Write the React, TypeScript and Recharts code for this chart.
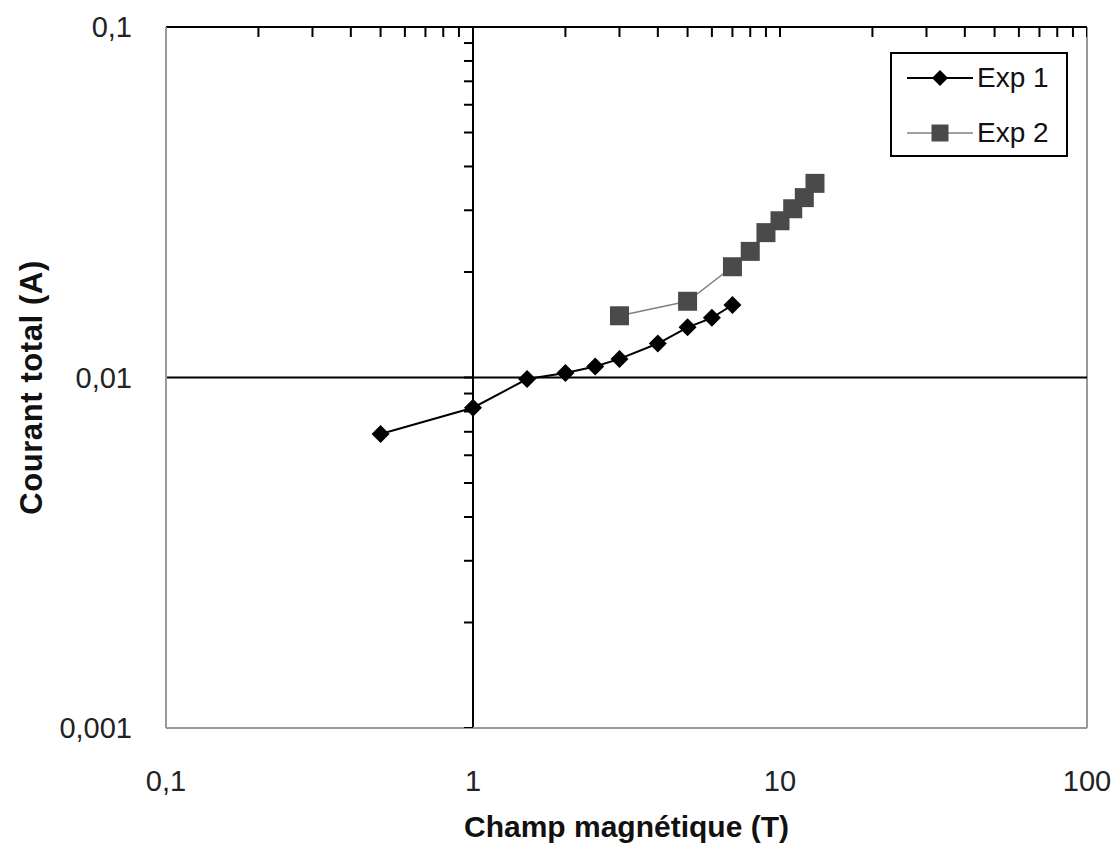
import { ScatterChart, Scatter, XAxis, YAxis, ReferenceLine } from 'recharts'

const exp1Field = [0.5, 1, 1.5, 2, 2.5, 3, 4, 5, 6, 7]
const exp1Current = [0.0069, 0.0082, 0.0099, 0.0103, 0.01075, 0.0113, 0.0125, 0.0139, 0.0148, 0.0161]

const exp2Field = [3, 5, 7, 8, 9, 10, 11, 12, 13]
const exp2Current = [0.015, 0.0165, 0.0207, 0.0229, 0.0259, 0.028, 0.0303, 0.0326, 0.0358]

const xTicks = [0.1, 1, 10, 100]
const yTicks = [0.001, 0.01, 0.1]
const xMinorTicks = [0.2, 0.3, 0.4, 0.5, 0.6, 0.7, 0.8, 0.9, 1, 2, 3, 4, 5, 6, 7, 8, 9, 10, 20, 30, 40, 50, 60, 70, 80, 90, 100]
const yMinorTicks = [0.001, 0.002, 0.003, 0.004, 0.005, 0.006, 0.007, 0.008, 0.009, 0.01, 0.02, 0.03, 0.04, 0.05, 0.06, 0.07, 0.08, 0.09]

const FONT = '"Liberation Sans", Arial, sans-serif'

const exp1 = exp1Field.map((x, i) => ({ x, y: exp1Current[i] }))
const exp2 = exp2Field.map((x, i) => ({ x, y: exp2Current[i] }))
const topTicks = xMinorTicks.map(x => ({ x, y: 0.1 }))
const axisTicks = yMinorTicks.map(y => ({ x: 1, y }))

const frLabel = (v: number) => String(v).replace('.', ',')

function Diamond({ cx, cy, half = 9, fill = '#000' }: any) {
  if (cx == null || cy == null) return null
  return (
    <polygon
      points={`${cx},${cy - half} ${cx + half},${cy} ${cx},${cy + half} ${cx - half},${cy}`}
      fill={fill}
    />
  )
}

function Square({ cx, cy, half = 9.5, fill = '#4a4a4a' }: any) {
  if (cx == null || cy == null) return null
  return <rect x={cx - half} y={cy - half} width={half * 2} height={half * 2} fill={fill} />
}

function TopTick({ cx, cy }: any) {
  if (cx == null || cy == null) return null
  return <line x1={cx} y1={cy} x2={cx} y2={cy + 10} stroke="#000" strokeWidth={2} />
}

function LeftTick({ cx, cy }: any) {
  if (cx == null || cy == null) return null
  return <line x1={cx - 9} y1={cy} x2={cx} y2={cy} stroke="#000" strokeWidth={2} />
}

function YTitle({ viewBox }: any) {
  // the title sits a little below the plot's middle in the original
  const cy = viewBox.y + viewBox.height / 2 + 10
  return (
    <text
      x={42}
      y={cy}
      transform={`rotate(-90, 42, ${cy})`}
      textAnchor="middle"
      fontFamily={FONT}
      fontSize={31}
      fontWeight="bold"
      letterSpacing={0.6}
      fill="#111"
    >
      Courant total (A)
    </text>
  )
}

const legendRows = [
  { name: 'Exp 1', color: '#000', width: 2, marker: <Diamond cx={33} cy={12} half={8} /> },
  { name: 'Exp 2', color: '#808080', width: 1.5, marker: <Square cx={33} cy={12} half={8.5} /> },
]

function LegendBox() {
  return (
    <div
      style={{
        position: 'absolute',
        left: 890,
        top: 52,
        width: 174,
        height: 101,
        border: '2px solid #000',
        background: '#fff',
        fontFamily: FONT,
      }}
    >
      {legendRows.map((r, i) => (
        <div key={r.name} style={{ position: 'absolute', left: 15, top: 12 + i * 55, display: 'flex', alignItems: 'center' }}>
          <svg width={66} height={24}>
            <line x1={0} y1={12} x2={66} y2={12} stroke={r.color} strokeWidth={r.width} />
            {r.marker}
          </svg>
          <span style={{ fontSize: 28, color: '#111', marginLeft: 4, lineHeight: '24px' }}>{r.name}</span>
        </div>
      ))}
    </div>
  )
}

export default function App() {
  return (
    <div style={{ position: 'absolute', left: 0, top: 0, width: 1114, height: 849, background: '#fff' }}>
      <ScatterChart width={1114} height={849} margin={{ top: 27, right: 27, left: 0, bottom: 0 }}>
        <XAxis
          type="number"
          dataKey="x"
          scale="log"
          domain={[0.1, 100]}
          ticks={xTicks}
          tickFormatter={frLabel}
          allowDataOverflow
          height={121}
          axisLine={{ stroke: '#999', strokeWidth: 2 }}
          tickLine={false}
          tickMargin={36}
          tick={{ fill: '#222', fontSize: 29, fontFamily: FONT }}
          label={{ value: 'Champ magnétique (T)', position: 'insideBottom', offset: 12, fontSize: 30, fontWeight: 'bold', fontFamily: FONT, fill: '#111' }}
        />
        <YAxis
          type="number"
          dataKey="y"
          scale="log"
          domain={[0.001, 0.1]}
          ticks={yTicks}
          tickFormatter={frLabel}
          allowDataOverflow
          width={166}
          axisLine={{ stroke: '#999', strokeWidth: 2 }}
          tickLine={false}
          tickMargin={28}
          tick={{ fill: '#222', fontSize: 29, fontFamily: FONT }}
          label={<YTitle />}
        />
        <ReferenceLine x={100} stroke="#999" strokeWidth={2} />
        <ReferenceLine y={0.01} stroke="#000" strokeWidth={2} />
        <ReferenceLine x={1} stroke="#000" strokeWidth={2} />
        <ReferenceLine y={0.1} stroke="#000" strokeWidth={2} />
        <Scatter data={topTicks} shape={<TopTick />} isAnimationActive={false} />
        <Scatter data={axisTicks} shape={<LeftTick />} isAnimationActive={false} />
        <Scatter
          name="Exp 1"
          data={exp1}
          line={{ stroke: '#000', strokeWidth: 2 }}
          shape={<Diamond />}
          isAnimationActive={false}
        />
        <Scatter
          name="Exp 2"
          data={exp2}
          line={{ stroke: '#808080', strokeWidth: 1.5 }}
          shape={<Square />}
          isAnimationActive={false}
        />
      </ScatterChart>
      <LegendBox />
    </div>
  )
}
